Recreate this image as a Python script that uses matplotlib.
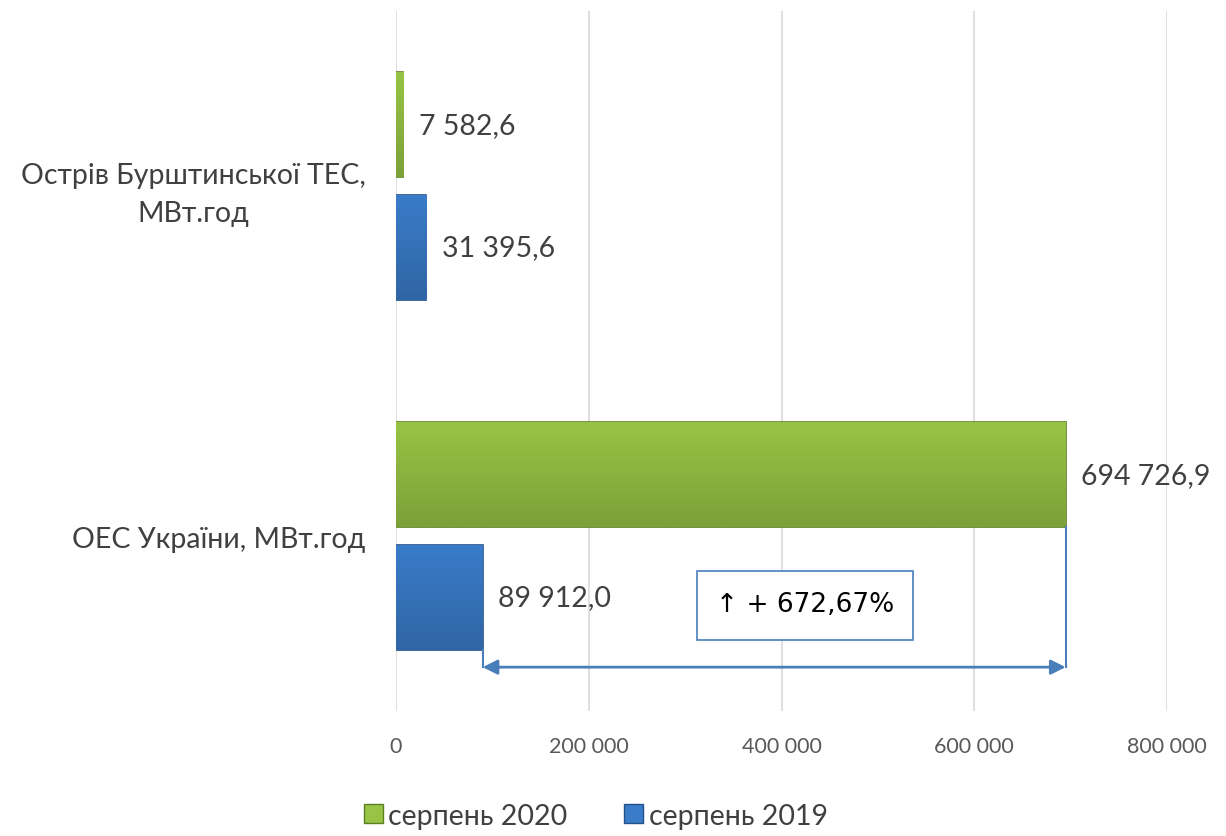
import numpy as np
import matplotlib
matplotlib.use("Agg")
import matplotlib.pyplot as plt
import matplotlib.patches as mpatches
from matplotlib.ticker import FuncFormatter

plt.rcParams['font.family'] = ['Lato', 'DejaVu Sans']

categories = ['Острів Бурштинської ТЕС,\nМВт.год', 'ОЕС України, МВт.год']
series_names = ['серпень 2020', 'серпень 2019']
aug2020 = [7582.6, 694726.9]
aug2019 = [31395.6, 89912.0]
growth_label = '↑ + 672,67%'

green = '#97c445'
green_dark = '#5d7f22'
blue = '#3a7cc9'
blue_dark = '#234f88'
text_col = '#404040'
ann_col = '#4a7ebb'


def fmt_val(v, dec=1):
    s = f'{v:,.{dec}f}'
    return s.replace(',', ' ').replace('.', ',')


fig = plt.figure(figsize=(12.26, 8.37), dpi=100)
ax = fig.add_axes([0.323, 0.149, 0.629, 0.837])

y = np.arange(len(categories))
h = 0.30
off = 0.175


def shaded_bars(ypos, vals, light, dark):
    bars = ax.barh(ypos, vals, height=h, color=light, edgecolor=dark,
                   linewidth=1.2, zorder=3)
    for b in bars:
        x0, y0 = b.get_x(), b.get_y()
        w, hh = b.get_width(), b.get_height()
        # vertical gradient for a bevel-like look
        grad = np.linspace(0, 1, 64).reshape(-1, 1)
        cmap = matplotlib.colors.LinearSegmentedColormap.from_list(
            'g', [light, matplotlib.colors.to_hex(
                np.array(matplotlib.colors.to_rgb(light)) * 0.82)])
        im = ax.imshow(grad, extent=(x0, x0 + w, y0 + hh, y0), aspect='auto',
                       cmap=cmap, zorder=3.5, interpolation='bilinear')
        im.set_clip_path(b)
    return bars


g = shaded_bars(y - off, aug2020, green, green_dark)
bl = shaded_bars(y + off, aug2019, blue, blue_dark)

for bars, vals in ((g, aug2020), (bl, aug2019)):
    for b, v in zip(bars, vals):
        ax.annotate(fmt_val(v), (b.get_width(), b.get_y() + b.get_height() / 2),
                    xytext=(11, 0), textcoords='offset points', va='center',
                    ha='left', fontsize=20.5, color=text_col, zorder=5)

ax.set_xlim(0, 800000)
ax.set_ylim(1.5, -0.5)
ax.set_xticks(np.arange(0, 800001, 200000))
ax.xaxis.set_major_formatter(FuncFormatter(lambda v, p: fmt_val(v, 0)))
ax.set_yticks(y)
ax.set_yticklabels(categories, fontsize=20.5, color=text_col,
                   multialignment='center', linespacing=1.55)
ax.tick_params(axis='x', length=0, pad=18, labelsize=15.5, labelcolor='#595959')
ax.tick_params(axis='y', length=0, pad=22)
ax.grid(axis='x', color='#d9d9d9', linewidth=1.2, zorder=0)
for s in ax.spines.values():
    s.set_visible(False)

# growth annotation
y_arrow = 1.374
x_old, x_new = aug2019[1], aug2020[1]
ax.plot([x_new, x_new], [1 - off + h / 2, y_arrow], color=ann_col, lw=1.5, zorder=4)
ax.plot([x_old, x_old], [1 + off + h / 2, y_arrow], color=ann_col, lw=1.5, zorder=4)
ax.annotate('', xy=(x_new, y_arrow), xytext=(x_old, y_arrow),
            arrowprops=dict(arrowstyle='<|-|>', color=ann_col, lw=2,
                            mutation_scale=22, shrinkA=0, shrinkB=0), zorder=4)
ax.add_patch(mpatches.Rectangle((312300, 1.1), 224100, 0.197, facecolor='white',
                                edgecolor=ann_col, lw=1.2, zorder=4))
ax.text(424400, 1.195, growth_label, ha='center', va='center', fontsize=19,
        color='black', zorder=5, family=['DejaVu Sans'])

handles = [mpatches.Patch(facecolor=green, edgecolor=green_dark, label=series_names[0]),
           mpatches.Patch(facecolor=blue, edgecolor=blue_dark, label=series_names[1])]
leg = fig.legend(handles=handles, loc='lower center', bbox_to_anchor=(0.486, -0.022),
                 ncol=2, frameon=False, fontsize=20.5, handlelength=0.65,
                 handleheight=0.65, handletextpad=0.2, columnspacing=2.0)
for t in leg.get_texts():
    t.set_color(text_col)

fig.savefig('out.png', dpi=100)
